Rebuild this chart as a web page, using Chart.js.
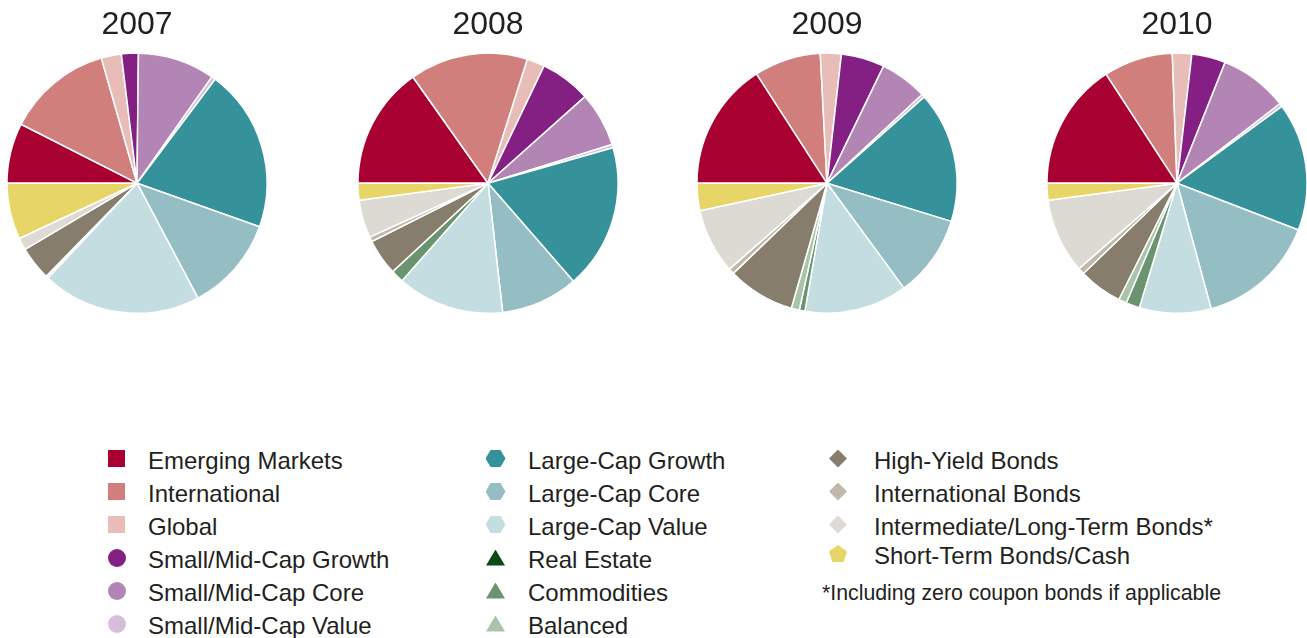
<!DOCTYPE html>
<html>
<head>
<meta charset="utf-8">
<script src="https://cdn.jsdelivr.net/npm/chart.js@4.4.1/dist/chart.umd.min.js"></script>
<style>
  body { margin: 0; background: #fff; width: 1307px; height: 638px; position: relative; overflow: hidden;
         font-family: "Liberation Sans", Arial, sans-serif; color: #231f20; }
  .pie { position: absolute; top: 0; }
  .item { position: absolute; font-size: 24px; line-height: 28px; white-space: nowrap; }
  .mark { position: absolute; }
  .note { position: absolute; font-size: 21.3px; line-height: 26px; white-space: nowrap; }
</style>
</head>
<body>
<canvas id="pie0" class="pie"></canvas>
<canvas id="pie1" class="pie"></canvas>
<canvas id="pie2" class="pie"></canvas>
<canvas id="pie3" class="pie"></canvas>
<div id="legend"></div>
<div class="note" style="left:822px; top:580px;">*Including zero coupon bonds if applicable</div>

<script>
const years = ["2007", "2008", "2009", "2010"];

const categories = [
  "Emerging Markets", "International", "Global",
  "Small/Mid-Cap Growth", "Small/Mid-Cap Core", "Small/Mid-Cap Value",
  "Large-Cap Growth", "Large-Cap Core", "Large-Cap Value",
  "Real Estate", "Commodities", "Balanced",
  "High-Yield Bonds", "International Bonds", "Intermediate/Long-Term Bonds*", "Short-Term Bonds/Cash"
];

const colors = [
  "#a80030", "#d17f7d", "#e8bcb7",
  "#841f84", "#b385b4", "#d6bedb",
  "#36929a", "#95bec4", "#c4dde0",
  "#0b4a14", "#6a9470", "#a9c4ab",
  "#877d6c", "#c0b9ab", "#dddad3", "#e8d567"
];

// marker shape per legend entry
const shapes = [
  "square", "square", "square",
  "circle", "circle", "circle",
  "hexagon", "hexagon", "hexagon",
  "triangle", "triangle", "triangle",
  "diamond", "diamond", "diamond", "pentagon"
];

// allocation in percent, same order as categories
const values2007 = [7.5, 13.1, 2.5, 2.1, 9.6, 0.5, 20.2, 11.8, 19.8, 0, 0.2, 0.1, 4.2, 0, 1.5, 7.0];
const values2008 = [15.2, 14.7, 2.2, 6.3, 6.8, 0.4, 18.0, 9.6, 13.3, 0, 1.6, 0, 4.5, 0.6, 4.7, 2.1];
const values2009 = [15.9, 8.3, 2.6, 5.4, 5.9, 0.4, 16.3, 10.2, 12.8, 0, 0.7, 1.0, 8.4, 0.7, 8.1, 3.4];
const values2010 = [15.8, 8.6, 2.4, 4.2, 8.5, 0.4, 15.9, 14.9, 8.9, 0, 1.7, 1.0, 5.4, 0.8, 9.3, 2.1];

const allValues = [values2007, values2008, values2009, values2010];
const pieCenters = [137, 488, 827, 1177];

const W = 280, H = 314;

years.forEach((year, i) => {
  const canvas = document.getElementById("pie" + i);
  canvas.width = W;
  canvas.height = H;
  canvas.style.width = W + "px";
  canvas.style.height = H + "px";
  canvas.style.left = (pieCenters[i] - W / 2) + "px";

  new Chart(canvas.getContext("2d"), {
    type: "pie",
    data: {
      labels: categories,
      datasets: [{
        data: allValues[i],
        backgroundColor: colors,
        borderColor: "#ffffff",
        borderWidth: 1.5,
        hoverOffset: 0
      }]
    },
    options: {
      responsive: false,
      animation: false,
      events: [],
      rotation: -90,
      layout: { padding: 0 },
      plugins: {
        legend: { display: false },
        tooltip: { enabled: false },
        title: {
          display: true,
          text: year,
          color: "#231f20",
          font: { family: "'Liberation Sans', Arial, sans-serif", size: 32, weight: "normal" },
          padding: { top: 6, bottom: 8 }
        }
      }
    }
  });
});

// legend: three columns
const columns = [
  { markX: 116.5, textX: 148, rows: [0, 1, 2, 3, 4, 5], centers: [461, 494, 527, 560, 593, 626] },
  { markX: 495.5, textX: 528, rows: [6, 7, 8, 9, 10, 11], centers: [461, 494, 527, 560, 593, 626] },
  { markX: 838, textX: 874, rows: [12, 13, 14, 15], centers: [461, 494, 527, 556] }
];

const clips = {
  hexagon: "polygon(0% 50%, 25% 0%, 75% 0%, 100% 50%, 75% 100%, 25% 100%)",
  triangle: "polygon(50% 0%, 100% 100%, 0% 100%)",
  diamond: "polygon(50% 0%, 100% 50%, 50% 100%, 0% 50%)",
  pentagon: "polygon(50% 0%, 100% 38%, 81% 100%, 19% 100%, 0% 38%)"
};
const sizes = { square: [17, 17], circle: [18, 18], hexagon: [20, 17], triangle: [19, 16], diamond: [18, 18], pentagon: [18, 17] };

const legend = document.getElementById("legend");
columns.forEach(col => {
  col.rows.forEach((idx, r) => {
    const cy = col.centers[r];
    const shape = shapes[idx];
    const [w, h] = sizes[shape];
    const m = document.createElement("div");
    m.className = "mark";
    m.style.left = (col.markX - w / 2) + "px";
    m.style.top = (cy - 2.5 - h / 2) + "px";
    m.style.width = w + "px";
    m.style.height = h + "px";
    m.style.background = colors[idx];
    if (shape === "circle") m.style.borderRadius = "50%";
    if (clips[shape]) m.style.clipPath = clips[shape];
    legend.appendChild(m);

    const t = document.createElement("div");
    t.className = "item";
    t.style.left = col.textX + "px";
    t.style.top = (cy - 14) + "px";
    t.textContent = categories[idx];
    legend.appendChild(t);
  });
});
</script>
</body>
</html>
